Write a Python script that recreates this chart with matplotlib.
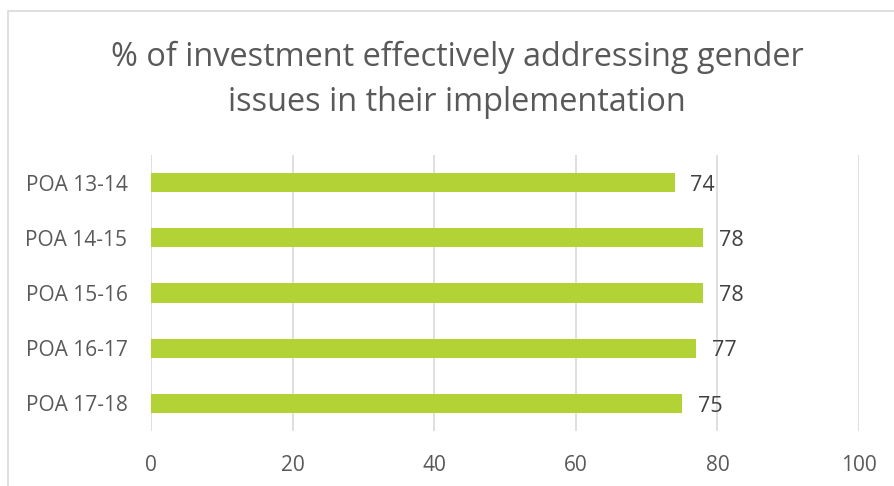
import matplotlib.pyplot as plt
from matplotlib.patches import Rectangle

categories = ['POA 13-14', 'POA 14-15', 'POA 15-16', 'POA 16-17', 'POA 17-18']
values = [74, 78, 78, 77, 75]
xticks = [0, 20, 40, 60, 80, 100]

plt.rcParams['font.family'] = ['Open Sans', 'DejaVu Sans']

fig = plt.figure(figsize=(8.94, 4.86), dpi=100)
ax = fig.add_axes([151 / 894, 1 - 431 / 486, 708 / 894, 276 / 486])

# chart border (cropped on the right and bottom like the reference)
fig.patches.append(Rectangle((8 / 894, -0.05), 1.2, 1 - 11 / 486 + 0.05,
                             transform=fig.transFigure, fill=False,
                             edgecolor='#D9D9D9', linewidth=1.2))

ypos = list(range(len(categories)))
ax.barh(ypos, values, height=0.35, color='#B2D235', zorder=3)
for y, v in zip(ypos, values):
    ax.text(v + 2.2, y + 0.05, str(v), va='center', ha='left',
            fontsize=15.5, color='#404040')

ax.set_xlim(0, 100)
ax.set_ylim(len(categories) - 0.5, -0.5)
ax.set_yticks(ypos)
ax.set_yticklabels(categories, fontsize=15, color='#595959')
ax.set_xticks(xticks)
ax.set_xticklabels([str(t) for t in xticks], fontsize=15, color='#595959')
ax.tick_params(length=0)
ax.tick_params(axis='x', pad=17)
ax.tick_params(axis='y', pad=17)
ax.grid(axis='x', color='#D9D9D9', linewidth=1.2, zorder=0)
for s in ax.spines.values():
    s.set_visible(False)

fig.text(457 / 894, 1 - 80 / 486,
         '% of investment effectively addressing gender\nissues in their implementation',
         ha='center', va='center', fontsize=23.4, color='#595959', linespacing=1.45)

fig.savefig('out.png', dpi=100)
